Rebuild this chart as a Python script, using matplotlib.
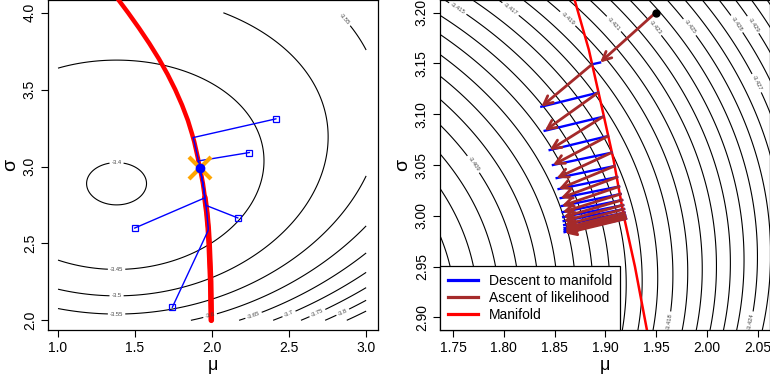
import numpy as np
import matplotlib
matplotlib.use("Agg")
import matplotlib.pyplot as plt
from matplotlib.lines import Line2D

plt.rcParams['font.family'] = ['Liberation Sans', 'DejaVu Sans']

LL_CONST = -1.839
LL_MEAN = 1.38
LL_VAR = 8.31

left_levels = [-3.85, -3.8, -3.75, -3.7, -3.65, -3.6, -3.55, -3.5, -3.45, -3.4]
right_levels = np.round(np.arange(-3.436, -3.4005, 0.001), 3)

# ---- manifold (red curve) ----
manifold_sigma = [2.00, 2.25, 2.50, 2.60, 2.70, 2.80, 2.8875, 2.95, 3.00, 3.0224,
                  3.0549, 3.10, 3.1633, 3.2125, 3.30, 3.40, 3.50, 3.60, 3.70, 3.80,
                  3.90, 4.00, 4.09]
manifold_mu = [1.995, 1.991, 1.981, 1.975, 1.966, 1.953, 1.9408, 1.929, 1.918, 1.9139,
               1.9080, 1.898, 1.8837, 1.8697, 1.843, 1.805, 1.761, 1.711, 1.655, 1.593,
               1.526, 1.455, 1.388]

# ---- left panel: starting points, projections, optimum ----
start_mu = [2.414, 2.242, 1.498, 2.167, 1.742]
start_sigma = [3.310, 3.091, 2.600, 2.666, 2.085]
proj_mu = [1.876, 1.908, 1.952, 1.959, 1.974]
proj_sigma = [3.188, 3.036, 2.796, 2.748, 2.583]
opt_mu, opt_sigma = 1.920, 2.991

# ---- right panel: projected gradient ascent path ----
init_mu, init_sigma = 1.9493, 3.2000
tip_mu = [1.8947, 1.8369, 1.8402, 1.8451, 1.8483, 1.8520, 1.8539, 1.8559, 1.8569,
          1.8579, 1.8584, 1.8589, 1.8594, 1.8598, 1.8598, 1.8598, 1.8603]
tip_sigma = [3.1509, 3.1074, 3.0837, 3.0647, 3.0500, 3.0371, 3.0263, 3.0174, 3.0096,
             3.0036, 2.9987, 2.9948, 2.9909, 2.9879, 2.9859, 2.9839, 2.9827]
step_mu = [1.8869, 1.8926, 1.8975, 1.9024, 1.9058, 1.9090, 1.9115, 1.9134, 1.9149,
           1.9164, 1.9174, 1.9183, 1.9188, 1.9193, 1.9198, 1.9203]
step_sigma = [3.1492, 3.1212, 3.0975, 3.0785, 3.0621, 3.0490, 3.0381, 3.0288, 3.0214,
              3.0155, 3.0105, 3.0066, 3.0031, 3.0007, 2.9987, 2.9972]

legend_labels = ["Descent to manifold", "Ascent of likelihood", "Manifold"]


def loglik(mu, sigma):
    return LL_CONST - np.log(sigma) - (LL_VAR + (mu - LL_MEAN) ** 2) / (2 * sigma ** 2)


W, H = 770, 375
fig = plt.figure(figsize=(W / 100, H / 100), dpi=100)
axL = fig.add_axes([48 / W, 45 / H, 330 / W, 330 / H])
axR = fig.add_axes([440 / W, 45 / H, 329.5 / W, 330 / H])

FS = 10
for ax in (axL, axR):
    ax.tick_params(direction='out', length=5, width=0.8, labelsize=FS, pad=3)
    for sp in ax.spines.values():
        sp.set_linewidth(0.9)
    ax.set_xlabel("μ", fontsize=13, labelpad=1)
    ax.set_ylabel("σ", fontsize=14, labelpad=3)

# ---------------- left panel ----------------
axL.set_xlim(0.935, 3.077)
axL.set_ylim(1.937, 4.083)
mg = np.linspace(1.0, 3.0, 400)
sg = np.linspace(2.0, 4.0, 400)
MU, SG = np.meshgrid(mg, sg)
csL = axL.contour(MU, SG, loglik(MU, SG), levels=left_levels, colors='black',
                  linewidths=0.8, linestyles='solid')
left_lab_pos = [(1.38, 3.03), (1.38, 2.33), (1.38, 2.16), (1.38, 2.045), (2.85, 3.95),
                (1.99, 2.02), (2.27, 2.03), (2.5, 2.04), (2.68, 2.055), (2.84, 2.07)]
axL.clabel(csL, inline=True, fontsize=4.2, colors='#444444', manual=left_lab_pos,
           fmt=lambda v: f"{round(v, 3):g}", inline_spacing=2)

msig = np.array(manifold_sigma)
mmu = np.array(manifold_mu)
axL.plot(mmu, msig, color='red', lw=3.2, solid_capstyle='round',
         solid_joinstyle='round', zorder=3)
low = msig <= 2.80
axL.plot(mmu[low], msig[low], color='red', lw=4.0, solid_capstyle='round',
         solid_joinstyle='round', zorder=3)

for i in range(len(start_mu)):
    lo, hi = sorted([proj_sigma[i], opt_sigma])
    sel = (msig > lo) & (msig < hi)
    path_mu = [start_mu[i], proj_mu[i]]
    path_sg = [start_sigma[i], proj_sigma[i]]
    idx = np.where(sel)[0]
    if proj_sigma[i] > opt_sigma:
        idx = idx[::-1]
    path_mu += list(mmu[idx]) + [opt_mu]
    path_sg += list(msig[idx]) + [opt_sigma]
    axL.plot(path_mu, path_sg, color='blue', lw=1.0, zorder=4)
axL.plot(start_mu, start_sigma, ls='none', marker='s', ms=4, mfc='none', mec='blue',
         mew=0.9, zorder=5)
axL.plot([opt_mu], [opt_sigma], ls='none', marker='x', ms=16, mew=3, color='orange',
         zorder=5)
axL.plot([opt_mu], [opt_sigma], ls='none', marker='o', ms=6, color='blue', zorder=6)

axL.set_xticks([1.0, 1.5, 2.0, 2.5, 3.0])
axL.set_xticklabels(["1.0", "1.5", "2.0", "2.5", "3.0"])
axL.set_yticks([2.0, 2.5, 3.0, 3.5, 4.0])
axL.set_yticklabels(["2.0", "2.5", "3.0", "3.5", "4.0"], rotation=90, va='center')

# ---------------- right panel ----------------
axR.set_xlim(1.7372, 2.0614)
axR.set_ylim(2.8875, 3.2125)
mg2 = np.linspace(1.70, 2.10, 400)
sg2 = np.linspace(2.85, 3.25, 400)
MU2, SG2 = np.meshgrid(mg2, sg2)
csR = axR.contour(MU2, SG2, loglik(MU2, SG2), levels=right_levels, colors='black',
                  linewidths=0.8, linestyles='solid')
right_lab_pos = [(1.752, 3.200), (1.8074, 3.2046), (1.8647, 3.196), (1.909, 3.1896),
                 (1.9493, 3.1862), (1.9857, 3.1879), (2.0302, 3.1896), (2.0496, 3.1911),
                 (2.0516, 3.132), (1.7713, 3.0516), (1.963, 2.8956), (2.0444, 2.8956)]
axR.clabel(csR, inline=True, fontsize=4.2, colors='#444444', manual=right_lab_pos,
           fmt=lambda v: f"{v:.3f}", inline_spacing=2)

axR.plot(mmu, msig, color='red', lw=1.8, zorder=3)

from_mu = [init_mu] + step_mu
from_sg = [init_sigma] + step_sigma
for k in range(len(tip_mu)):
    axR.annotate('', xy=(tip_mu[k], tip_sigma[k]), xytext=(from_mu[k], from_sg[k]),
                 arrowprops=dict(arrowstyle='->,head_length=0.45,head_width=0.22',
                                 color='brown', lw=2.0, shrinkA=0, shrinkB=0,
                                 mutation_scale=14), zorder=5)
    if k < len(step_mu):
        axR.plot([tip_mu[k], step_mu[k]], [tip_sigma[k], step_sigma[k]], color='blue',
                 lw=1.7, zorder=4)
axR.plot([init_mu], [init_sigma], ls='none', marker='o', ms=5, color='black', zorder=6)

axR.set_xticks([1.75, 1.80, 1.85, 1.90, 1.95, 2.00, 2.05])
axR.set_xticklabels(["1.75", "1.80", "1.85", "1.90", "1.95", "2.00", "2.05"])
axR.set_yticks([2.90, 2.95, 3.00, 3.05, 3.10, 3.15, 3.20])
axR.set_yticklabels(["2.90", "2.95", "3.00", "3.05", "3.10", "3.15", "3.20"],
                    rotation=90, va='center')

handles = [Line2D([], [], color='blue', lw=2.3),
           Line2D([], [], color='brown', lw=2.3),
           Line2D([], [], color='red', lw=2.3)]
leg = axR.legend(handles, legend_labels, loc='lower left', fontsize=FS,
                 frameon=True, fancybox=False, framealpha=1, edgecolor='black',
                 borderaxespad=0, handlelength=2.1, handletextpad=0.8,
                 labelspacing=0.2, borderpad=0.6)
leg.get_frame().set_linewidth(0.9)
leg.set_zorder(10)

fig.savefig("out.png", dpi=100)
